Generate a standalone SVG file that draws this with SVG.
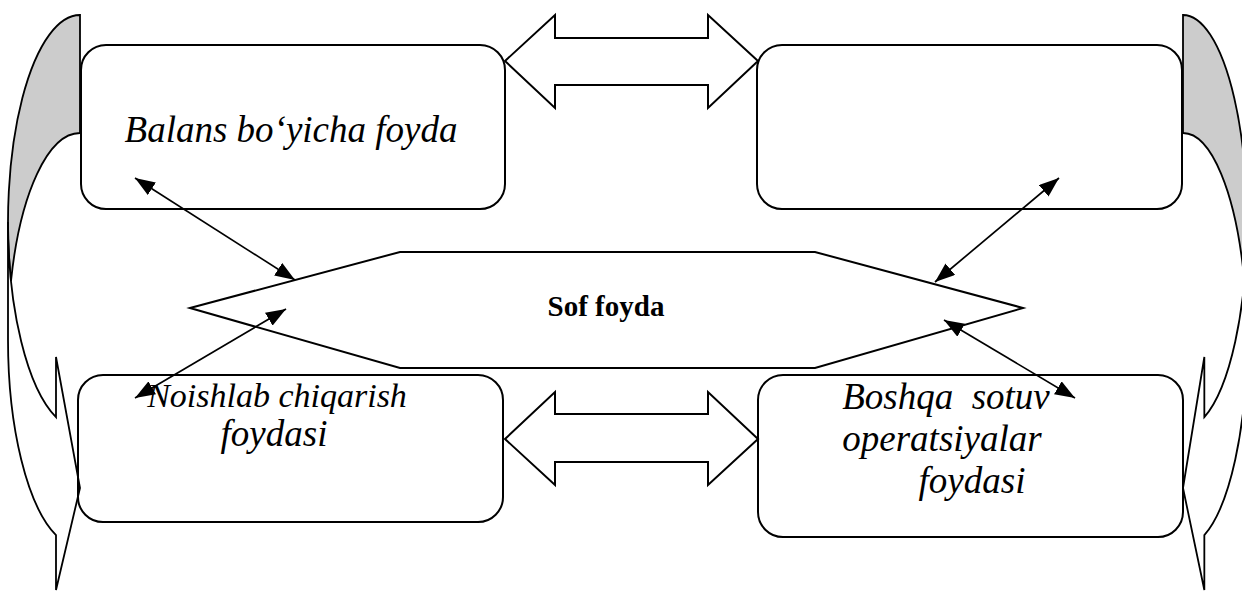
<svg xmlns="http://www.w3.org/2000/svg" width="1242" height="592" viewBox="0 0 1242 592">
<style>
.sh{stroke:#000;stroke-width:1.8;stroke-linejoin:miter;vector-effect:non-scaling-stroke}
.gray{fill:#cccccc}
.band{fill:#ffffff}
.box{fill:none;stroke:#000;stroke-width:2}
.blk{fill:#fff;stroke:#000;stroke-width:2;stroke-linejoin:miter}
.con{fill:none;stroke:#000;stroke-width:1.7}
.t{font-family:"Liberation Serif","Times New Roman",serif;font-style:italic;font-size:37px;fill:#000}
.t34{font-size:34px}
.b{font-family:"Liberation Serif","Times New Roman",serif;font-weight:bold;font-size:29px;fill:#000}
</style>
<defs>
<marker id="ah" viewBox="0 0 20 15" refX="20" refY="7.5" markerWidth="20" markerHeight="15" markerUnits="userSpaceOnUse" orient="auto-start-reverse">
<path d="M0,0 L20,7.5 L0,15 Z" fill="#000"/>
</marker>
</defs>
<rect width="1242" height="592" fill="#fff"/>
<g id="curved-arrow-left" transform="translate(80,0)">
<path class="sh gray" d="M0,15 A72,207 0 0 0 -69,281 A72,207 0 0 1 0,133 Z"/>
<path class="sh band" d="M-72,222 A72,207 0 0 0 -24,417.2 L-24,357 L0,488 L-24,590 L-24,535.2 A72,207 0 0 1 -72,340 Z"/>
</g>
<g id="curved-arrow-right" transform="translate(1183,0) scale(-0.889,1)">
<path class="sh gray" d="M0,15 A72,207 0 0 0 -69,281 A72,207 0 0 1 0,133 Z"/>
<path class="sh band" d="M-72,222 A72,207 0 0 0 -24,417.2 L-24,357 L0,488 L-24,590 L-24,535.2 A72,207 0 0 1 -72,340 Z"/>
</g>
<g id="box-balans">
<rect class="box" x="81" y="45" width="424" height="164" rx="25"/>
<text class="t" x="291" y="142" text-anchor="middle">Balans bo‘yicha foyda</text>
</g>
<g id="box-empty">
<rect class="box" x="757" y="45" width="425" height="164" rx="25"/>
</g>
<g id="box-noishlab">
<rect class="box" x="78" y="375" width="425" height="147" rx="25"/>
<text class="t t34" x="277" y="407" text-anchor="middle">Noishlab chiqarish</text>
<text class="t" x="274" y="446" text-anchor="middle">foydasi</text>
</g>
<g id="box-boshqa">
<rect class="box" x="758" y="375" width="425" height="162" rx="25"/>
<text class="t" x="946" y="409" text-anchor="middle" xml:space="preserve">Boshqa  sotuv</text>
<text class="t" x="942" y="451" text-anchor="middle">operatsiyalar</text>
<text class="t" x="972" y="493" text-anchor="middle">foydasi</text>
</g>
<g id="arrow-top">
<path class="blk" d="M505,61 L555,15 L555,38 L708,38 L708,15 L758,61 L708,108 L708,85 L555,85 L555,108 Z"/>
</g>
<g id="arrow-bottom">
<path class="blk" d="M505,439 L555,392 L555,414 L708,414 L708,392 L758,439 L708,485 L708,462 L555,462 L555,485 Z"/>
</g>
<g id="sof-foyda">
<path class="blk" d="M190,308 L400,252 L815,252 L1023,308 L815,368 L400,368 Z"/>
<text class="b" x="606" y="316" text-anchor="middle">Sof foyda</text>
</g>
<g id="connectors">
<line class="con" x1="135" y1="178" x2="295" y2="280" marker-start="url(#ah)" marker-end="url(#ah)"/>
<line class="con" x1="135" y1="398" x2="286" y2="309" marker-start="url(#ah)" marker-end="url(#ah)"/>
<line class="con" x1="1059" y1="178" x2="935" y2="282" marker-start="url(#ah)" marker-end="url(#ah)"/>
<line class="con" x1="1075" y1="398" x2="944" y2="320" marker-start="url(#ah)" marker-end="url(#ah)"/>
</g>
</svg>
